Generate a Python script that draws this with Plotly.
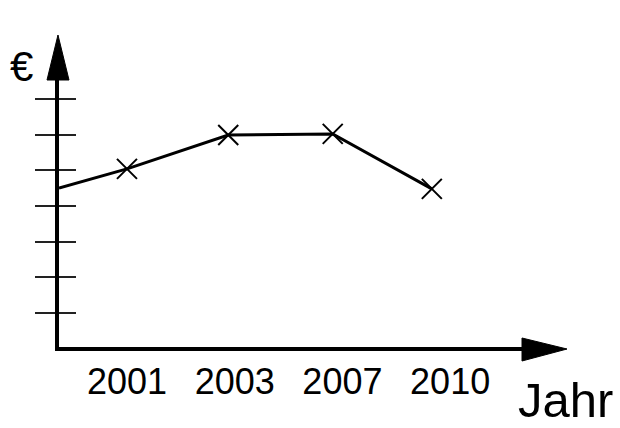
import plotly.graph_objects as go

# Data (arbitrary € units, ticks at 1..7)
years = ["2001", "2003", "2007", "2010"]
label_pos = [1, 2, 3, 4]              # where the year labels sit
point_pos = [1.0, 1.94, 2.91, 3.83]   # where the measured points sit
values = [5.04, 5.99, 6.02, 4.48]
# line enters from the left edge of the axis (value at the y-axis)
start_pos = 0.369
start_value = 4.5
y_ticks = [1, 2, 3, 4, 5, 6, 7]

FONT = "Liberation Sans, Arial, Helvetica, sans-serif"

fig = go.Figure()
fig.add_trace(go.Scatter(
    x=[start_pos] + point_pos, y=[start_value] + values,
    mode="lines", line=dict(color="black", width=3),
    hoverinfo="skip", showlegend=False,
))
fig.add_trace(go.Scatter(
    x=point_pos, y=values, mode="markers",
    marker=dict(symbol="x-thin-open", size=20, color="black",
                line=dict(color="black", width=2)),
    showlegend=False,
))
# invisible trace on second y axis so it renders
fig.add_trace(go.Scatter(x=[point_pos[0]], y=[values[0]], yaxis="y2",
                         mode="markers", marker=dict(opacity=0), showlegend=False,
                         hoverinfo="skip"))

yr = [0.048, 7.53]
xr = [start_pos, 4.667]

fig.update_layout(
    width=620, height=428,
    margin=dict(l=59, r=98, t=80, b=81),
    paper_bgcolor="white", plot_bgcolor="white",
    font=dict(family=FONT, color="black"),
    xaxis=dict(range=xr, tickvals=label_pos, ticktext=years, showgrid=False,
               zeroline=False, showline=True, linecolor="black", linewidth=4,
               ticks="", tickfont=dict(size=36, family=FONT, color="black"),
               ticklabelstandoff=0),
    yaxis=dict(range=yr, tickvals=y_ticks, showticklabels=False, showgrid=False,
               zeroline=False, showline=True, linecolor="black", linewidth=4,
               ticks="outside", ticklen=20, tickwidth=2, tickcolor="#222"),
    yaxis2=dict(range=yr, overlaying="y", side="left", tickvals=y_ticks,
                showticklabels=False, showgrid=False, zeroline=False,
                showline=False, ticks="inside", ticklen=17, tickwidth=2,
                tickcolor="#222"),
    shapes=[
        dict(type="path", xref="paper", yref="paper",
             path="M -0.0259,1 L 0.0216,1 L -0.0022,1.1685 Z",
             fillcolor="black", line=dict(color="black", width=1)),
        dict(type="path", xref="paper", yref="paper",
             path="M 1,0.0337 L 1,-0.0524 L 1.0972,-0.0075 Z",
             fillcolor="black", line=dict(color="black", width=1)),
    ],
    annotations=[
        dict(text="€", xref="paper", yref="paper", x=-0.082, y=1.049,
             xanchor="center", yanchor="middle", showarrow=False,
             font=dict(size=42, family=FONT, color="black")),
        dict(text="Jahr", xref="paper", yref="paper", x=1.093, y=-0.197,
             xanchor="center", yanchor="middle", showarrow=False,
             font=dict(size=49, family=FONT, color="black")),
    ],
)

fig.write_html("out.html", config={"displayModeBar": False},
               post_script="document.body.style.margin='0';")
